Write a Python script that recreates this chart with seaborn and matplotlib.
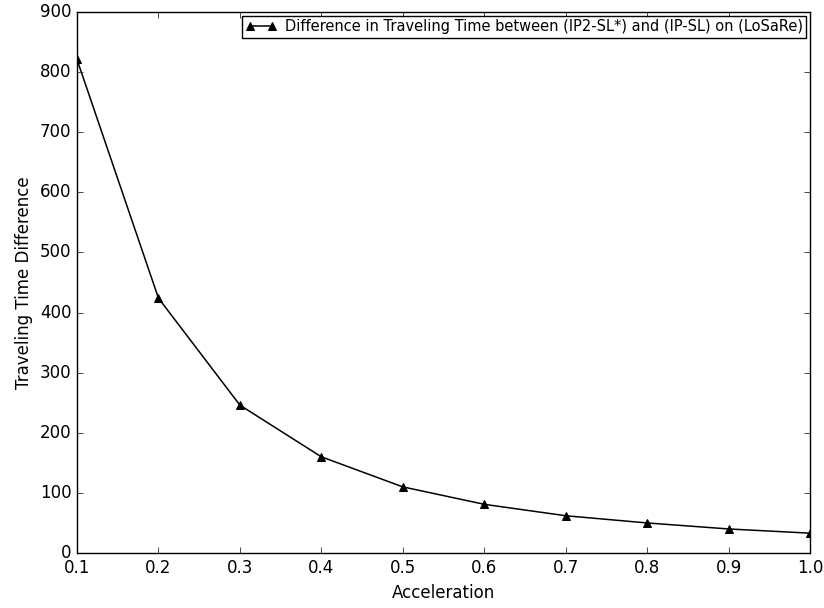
import matplotlib
matplotlib.use("Agg")
import matplotlib.pyplot as plt
import seaborn as sns
import pandas as pd

acceleration = [0.1, 0.2, 0.3, 0.4, 0.5, 0.6, 0.7, 0.8, 0.9, 1.0]
time_diff = [821, 424, 246, 160, 110, 81, 62, 50, 40, 33]
series_label = "Difference in Traveling Time between (IP2-SL*) and (IP-SL) on (LoSaRe)"

df = pd.DataFrame({"Acceleration": acceleration, "Traveling Time Difference": time_diff})

plt.style.use("classic")
plt.rcParams["font.family"] = ["DejaVu Sans"]
fig = plt.figure(figsize=(8.24, 6.08), dpi=100, facecolor="white")
ax = fig.add_axes([77/824, 1-553/608, (810-77)/824, (553-12)/608])
ax.set_facecolor("white")

sns.lineplot(data=df, x="Acceleration", y="Traveling Time Difference", ax=ax,
             color="black", marker="^", markersize=6, markeredgecolor="black",
             linewidth=1.1, label=series_label)

ax.set_xlim(0.1, 1.0)
ax.set_ylim(0, 900)
ax.set_xticks([0.1, 0.2, 0.3, 0.4, 0.5, 0.6, 0.7, 0.8, 0.9, 1.0])
ax.set_yticks(range(0, 901, 100))
ax.tick_params(labelsize=12)
ax.set_xlabel("Acceleration", fontsize=12)
ax.set_ylabel("Traveling Time Difference", fontsize=12)
leg = ax.legend(loc="upper right", fontsize=10.5, numpoints=2, fancybox=False,
                frameon=True, borderaxespad=0.25, handlelength=2.1,
                markerscale=0.9, borderpad=0.25, handletextpad=0.6)
leg.get_frame().set_edgecolor("black")

fig.savefig("out.png", dpi=100, facecolor="white")
